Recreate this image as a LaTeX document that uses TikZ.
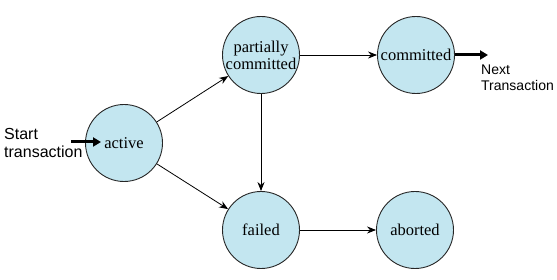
\documentclass[tikz,border=0pt]{standalone}
\usepackage{fontspec}
\setmainfont{Liberation Serif}
\newfontfamily\labelfont{Liberation Sans}
\usetikzlibrary{arrows.meta}
\definecolor{stfill}{RGB}{195,230,240}
\begin{document}
\begin{tikzpicture}[x=1pt,y=-1pt,
  state/.style={circle,draw=black!85,line width=0.9pt,fill=stfill,minimum size=77pt,inner sep=0pt,align=center,font=\fontsize{16.5}{17}\selectfont},
  edge/.style={-{Stealth[length=9pt,width=7pt]},line width=0.8pt},
  thick arrow/.style={-{Triangle[length=8pt,width=9pt]},line width=3pt},
  lbl/.style={font=\labelfont,align=left,inner sep=0pt}]
\useasboundingbox (0,0) rectangle (557,280);
\node[state] (active) at (124,143) {active};
\node[state] (pc) at (261,55) {partially\\committed};
\node[state] (comm) at (416,55) {committed};
\node[state] (failed) at (261,230) {failed};
\node[state] (abort) at (415,230) {aborted};
\draw[edge] (active) -- (pc);
\draw[edge] (active) -- (failed);
\draw[edge] (pc) -- (comm);
\draw[edge] (pc) -- (failed);
\draw[edge] (failed) -- (abort);
\node[lbl,font=\labelfont\fontsize{16}{17.5}\selectfont,anchor=west] (start) at (4,143) {Start\\transaction};
\coordinate (s0) at (71,142);
\coordinate (s1) at (101,142);
\draw[thick arrow] (s0) -- (s1);
\coordinate (n1) at (488,55);
\draw[thick arrow] (comm.east) -- (n1);
\node[lbl,font=\labelfont\fontsize{14}{16}\selectfont,anchor=north west] (next) at (481,65) {Next\\Transaction};
\end{tikzpicture}
\end{document}
